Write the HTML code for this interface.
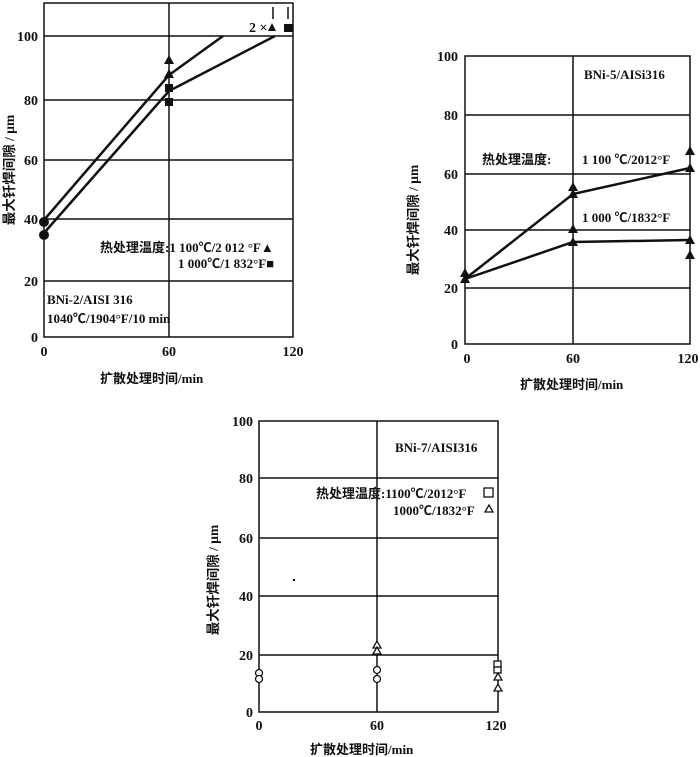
<!DOCTYPE html>
<html><head><meta charset="utf-8"><style>
body{margin:0;background:#fff}
svg{display:block}
text{font-family:"Liberation Serif","Noto Serif CJK SC",serif;fill:#111}
.t{font-size:14px;font-weight:bold}
.c{font-family:"Liberation Serif","Noto Sans CJK SC",sans-serif;font-weight:bold;font-size:13px}
.y{font-size:13.5px}
.g{stroke:#111;stroke-width:1.5;fill:none}
.l{stroke:#111;stroke-width:2.5;fill:none}
</style></head><body>
<svg width="700" height="757" viewBox="0 0 700 757" xmlns="http://www.w3.org/2000/svg">
<!-- Chart 1 -->
<rect x="44" y="3" width="249" height="334" class="g"/>
<line x1="44" y1="36" x2="293" y2="36" class="g"/>
<line x1="44" y1="100" x2="293" y2="100" class="g"/>
<line x1="44" y1="160" x2="293" y2="160" class="g"/>
<line x1="44" y1="219" x2="293" y2="219" class="g"/>
<line x1="44" y1="281" x2="293" y2="281" class="g"/>
<line x1="169" y1="3" x2="169" y2="337" class="g"/>
<g class="t" text-anchor="end"><text x="38" y="41">100</text><text x="38" y="105">80</text><text x="38" y="165">60</text><text x="38" y="224">40</text><text x="38" y="286">20</text><text x="38" y="342">0</text></g>
<g class="t" text-anchor="middle"><text x="44" y="356">0</text><text x="169" y="356">60</text><text x="293" y="356">120</text></g>
<polyline points="44,220 169,75 223,36" class="l"/>
<polyline points="44,233 169,91 275,36" class="l"/>
<circle cx="44" cy="222" r="5" fill="#111"/><circle cx="44" cy="235" r="5" fill="#111"/>
<polygon points="169,55 164,64 174,64" fill="#111"/><polygon points="169,69 164,78 174,78" fill="#111"/>
<rect x="165" y="84" width="8" height="8" fill="#111"/><rect x="165" y="98" width="8" height="8" fill="#111"/>
<polygon points="272,23 268,31 276,31" fill="#111"/><rect x="284" y="24" width="9" height="8" fill="#111"/>
<line x1="273" y1="7" x2="273" y2="19" class="g"/><line x1="288" y1="7" x2="288" y2="19" class="g"/>
<text x="249" y="32" class="t" font-weight="normal">2 ×</text>
<text x="100" y="252" class="c">热处理温度:1 100℃/2 012 °F▲</text>
<text x="178" y="268" class="c">1 000℃/1 832°F■</text>
<text x="47" y="304" class="c" font-weight="normal">BNi-2/AISI 316</text>
<text x="47" y="323" class="c" font-weight="normal">1040℃/1904°F/10 min</text>
<text x="100" y="383" class="c">扩散处理时间/min</text>
<text transform="translate(14,170) rotate(-90)" text-anchor="middle" class="c y">最大钎焊间隙 / μm</text>

<!-- Chart 2 -->
<rect x="465" y="56" width="225" height="288" class="g"/>
<line x1="465" y1="115" x2="690" y2="115" class="g"/>
<line x1="465" y1="174" x2="690" y2="174" class="g"/>
<line x1="465" y1="230" x2="690" y2="230" class="g"/>
<line x1="465" y1="288" x2="690" y2="288" class="g"/>
<line x1="573" y1="56" x2="573" y2="344" class="g"/>
<g class="t" text-anchor="end"><text x="458" y="61">100</text><text x="458" y="120">80</text><text x="458" y="179">60</text><text x="458" y="235">40</text><text x="458" y="293">20</text><text x="458" y="349">0</text></g>
<g class="t" text-anchor="middle"><text x="467" y="363">0</text><text x="573" y="363">60</text><text x="688" y="363">120</text></g>
<polyline points="465,279 573,194 690,168" class="l"/>
<polyline points="465,279 573,242 690,240" class="l"/>
<g fill="#111">
<polygon points="465,268 460,277 470,277"/><polygon points="465,274 460,283 470,283"/>
<polygon points="573,182 568,191 578,191"/><polygon points="573,189 568,198 578,198"/>
<polygon points="573,224 568,233 578,233"/><polygon points="573,237 568,246 578,246"/>
<polygon points="690,146 685,155 695,155"/><polygon points="690,163 685,172 695,172"/>
<polygon points="690,235 685,244 695,244"/><polygon points="690,250 685,259 695,259"/>
</g>
<text x="584" y="79" class="c" font-weight="normal">BNi-5/AISi316</text>
<text x="482" y="164" class="c">热处理温度:</text>
<text x="582" y="164" class="c" font-weight="normal">1 100 ℃/2012°F</text>
<text x="582" y="222" class="c" font-weight="normal">1 000 ℃/1832°F</text>
<text x="520" y="389" class="c">扩散处理时间/min</text>
<text transform="translate(418,220) rotate(-90)" text-anchor="middle" class="c y">最大钎焊间隙 / μm</text>

<!-- Chart 3 -->
<rect x="259" y="421" width="239" height="291" class="g"/>
<line x1="259" y1="478" x2="498" y2="478" class="g"/>
<line x1="259" y1="538" x2="498" y2="538" class="g"/>
<line x1="259" y1="596" x2="498" y2="596" class="g"/>
<line x1="259" y1="655" x2="498" y2="655" class="g"/>
<line x1="377" y1="421" x2="377" y2="712" class="g"/>
<g class="t" text-anchor="end"><text x="253" y="426">100</text><text x="253" y="483">80</text><text x="253" y="543">60</text><text x="253" y="601">40</text><text x="253" y="660">20</text><text x="253" y="717">0</text></g>
<g class="t" text-anchor="middle"><text x="259" y="730">0</text><text x="377" y="730">60</text><text x="496" y="730">120</text></g>
<g fill="#fff" stroke="#111" stroke-width="1.3">
<circle cx="259" cy="673" r="3.5"/><circle cx="259" cy="679" r="3.5"/>
<circle cx="377" cy="670" r="3.5"/><circle cx="377" cy="679" r="3.5"/>
<polygon points="377,641 373,648 381,648"/><polygon points="377,647 373,654 381,654"/>
<rect x="494" y="661" width="7" height="6"/><rect x="494" y="667" width="7" height="6"/>
<polygon points="498,673 494,680 502,680"/><polygon points="498,684 494,691 502,691"/>
<rect x="484" y="488" width="9" height="9"/><polygon points="489,505 485,512 493,512"/>
</g>
<rect x="293" y="579" width="2" height="2" fill="#111"/>
<text x="395" y="452" class="c" font-weight="normal">BNi-7/AISI316</text>
<text x="316" y="498" class="c">热处理温度:1100℃/2012°F</text>
<text x="393" y="515" class="c" font-weight="normal">1000℃/1832°F</text>
<text x="310" y="754" class="c">扩散处理时间/min</text>
<text transform="translate(218,580) rotate(-90)" text-anchor="middle" class="c y">最大钎焊间隙 / μm</text>
</svg>
</body></html>
